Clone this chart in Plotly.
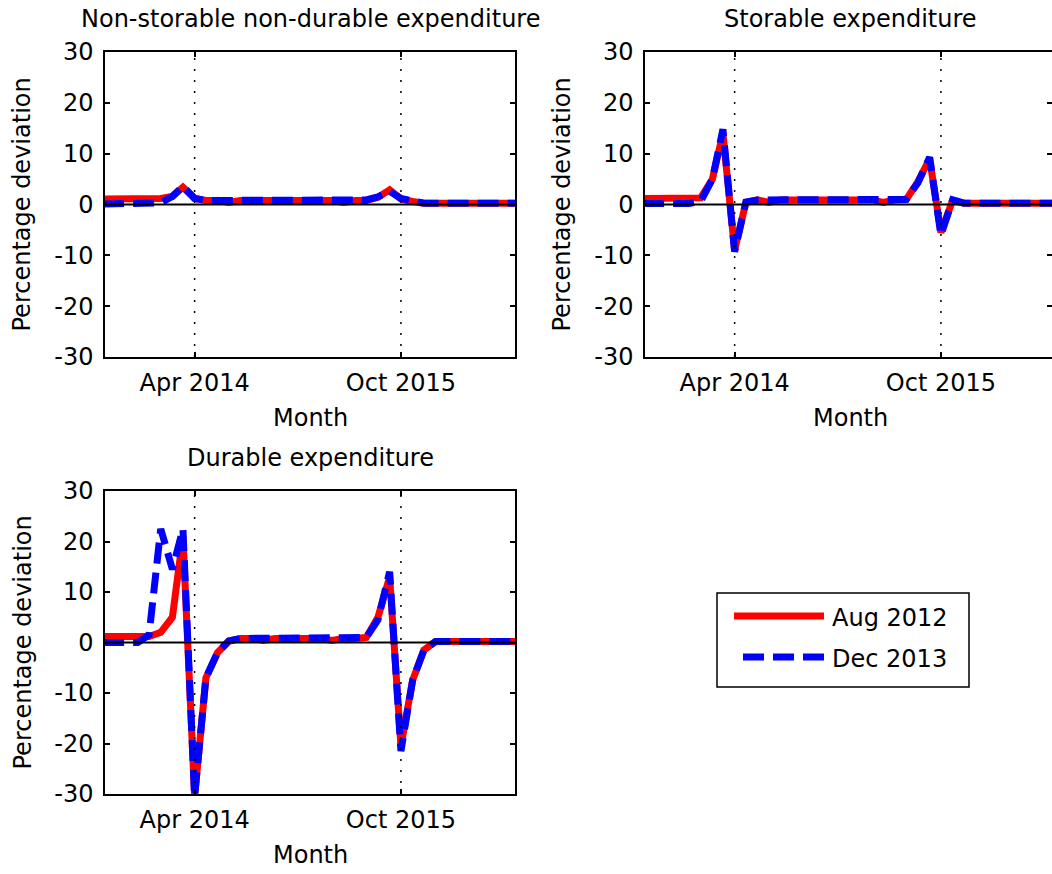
import plotly.graph_objects as go
import pandas as pd

# ---------------- data (monthly, Aug 2013 .. Aug 2016) ----------------
months = pd.date_range("2013-08-01", periods=37, freq="MS")

tick_dates = ["2014-04-01", "2015-10-01"]
tick_labels = ["Apr 2014", "Oct 2015"]
y_ticks = [-30, -20, -10, 0, 10, 20, 30]
y_tick_labels = ["-30", "-20", "-10", "0", "10", "20", "30"]
series_names = ["Aug 2012", "Dec 2013"]

# Non-storable non-durable expenditure
nondur_aug2012 = [1.1, 1.1, 1.1, 1.1, 1.1, 1.2, 1.6, 3.4, 1.2, 0.8,
                  0.8, 0.4, 0.8, 0.8, 0.8, 0.8, 0.8, 0.8, 0.8, 0.8,
                  0.8, 0.4, 0.8, 0.8, 1.4, 2.9, 1.1, 0.6, 0.25, 0.25,
                  0.25, 0.25, 0.25, 0.25, 0.25, 0.25, 0.25]
nondur_dec2013 = [0.1, 0.1, 0.1, 0.1, 0.1, 0.3, 1.6, 3.6, 1.2, 0.8,
                  0.8, 0.8, 0.8, 0.8, 0.8, 0.8, 0.8, 0.8, 0.8, 0.8,
                  0.8, 0.8, 0.8, 0.9, 1.5, 2.6, 1.2, 0.6, 0.25, 0.25,
                  0.25, 0.25, 0.25, 0.25, 0.25, 0.25, 0.25]

# Storable expenditure
stor_aug2012 = [1.2, 1.2, 1.2, 1.2, 1.2, 1.3, 5.0, 14.0, -9.0, 0.4,
                0.9, 0.4, 0.9, 0.9, 0.9, 0.9, 0.9, 0.9, 0.9, 0.9,
                0.9, 0.4, 0.9, 1.0, 4.5, 9.0, -5.5, 0.8, 0.25, 0.25,
                0.25, 0.25, 0.25, 0.25, 0.25, 0.25, 0.25]
stor_dec2013 = [0.2, 0.2, 0.2, 0.2, 0.2, 0.6, 5.0, 14.8, -9.3, 0.5,
                0.9, 0.9, 0.9, 0.9, 0.9, 0.9, 0.9, 0.9, 0.9, 0.9,
                0.9, 0.9, 0.9, 1.0, 4.3, 9.3, -6.0, 0.9, 0.25, 0.25,
                0.25, 0.25, 0.25, 0.25, 0.25, 0.25, 0.25]

# Durable expenditure
dur_aug2012 = [1.2, 1.2, 1.2, 1.2, 1.2, 2.0, 5.0, 21.0, -30.5, -7.0,
               -2.0, 0.3, 0.8, 0.8, 0.4, 0.8, 0.8, 0.8, 0.8, 0.8,
               0.4, 0.8, 0.8, 1.0, 5.0, 13.0, -20.5, -7.5, -1.5, 0.2,
               0.2, 0.2, 0.2, 0.2, 0.2, 0.2, 0.2]
dur_dec2013 = [0.0, 0.0, 0.0, 0.0, 1.5, 22.5, 14.5, 22.5, -30.5, -7.0,
               -2.0, 0.3, 0.8, 0.8, 0.8, 0.8, 0.8, 0.8, 0.8, 0.8,
               0.8, 0.8, 0.8, 1.0, 4.5, 14.0, -21.5, -7.5, -1.5, 0.2,
               0.2, 0.2, 0.2, 0.2, 0.2, 0.2, 0.2]

panels = [
    ("Non-storable non-durable expenditure", nondur_aug2012, nondur_dec2013),
    ("Storable expenditure", stor_aug2012, stor_dec2013),
    ("Durable expenditure", dur_aug2012, dur_dec2013),
]

# ---------------- layout geometry ----------------
W, H = 1052, 874
FONT = "DejaVu Sans"
FS = 24
RED = "rgb(255,0,0)"
BLUE = "rgb(0,0,255)"
LW = 7
DASH = "21px,9px"


def fx(p):
    return p / W


def fy(p):
    return 1 - p / H


# pixel boxes (left, right, top, bottom)
boxes = [(105, 515, 52, 357), (645, 1052, 52, 357), (105, 515, 491, 794)]
xranges = [["2013-08-06", "2016-07-30"], ["2013-08-06", "2016-07-22"],
           ["2013-08-06", "2016-07-30"]]

fig = go.Figure()
annotations = []
shapes = []

for i, ((title, red_vals, blue_vals), (l, r, t, b), xr) in enumerate(zip(panels, boxes, xranges)):
    n = "" if i == 0 else str(i + 1)
    xa, ya = "x" + n, "y" + n
    fig.add_trace(go.Scatter(x=months, y=red_vals, mode="lines", name=series_names[0],
                             line=dict(color=RED, width=LW), xaxis=xa, yaxis=ya,
                             showlegend=False))
    fig.add_trace(go.Scatter(x=months, y=blue_vals, mode="lines", name=series_names[1],
                             line=dict(color=BLUE, width=LW, dash=DASH), xaxis=xa, yaxis=ya,
                             showlegend=False))
    axis_common = dict(showline=True, linecolor="black", linewidth=1.5, mirror="ticks",
                       ticks="inside", ticklen=5, tickwidth=1.5, tickcolor="black",
                       showgrid=False, zeroline=False, automargin=False,
                       tickfont=dict(family=FONT, size=FS, color="black"))
    fig.layout["xaxis" + n] = dict(axis_common, type="date", range=xr,
                                   domain=[fx(l), min(fx(r), 1.0)], anchor=ya,
                                   tickvals=tick_dates, ticktext=tick_labels,
                                   ticklabelstandoff=3)
    fig.layout["yaxis" + n] = dict(axis_common, range=[-30, 30], tickvals=y_ticks,
                                   ticktext=y_tick_labels, ticklabelstandoff=5,
                                   domain=[fy(b), fy(t)], anchor=xa)
    # zero line and dotted vertical lines at the ticks, drawn over the data
    shapes.append(dict(type="line", xref=xa + " domain", yref=ya, x0=0, x1=1, y0=0, y1=0,
                       line=dict(color="black", width=2), layer="above"))
    for d in tick_dates:
        shapes.append(dict(type="line", xref=xa, yref=ya + " domain", x0=d, x1=d, y0=0, y1=1,
                           line=dict(color="black", width=1.5, dash="2px,9px"), layer="above"))
    cx = (l + (1055 if i == 1 else r)) / 2
    annotations.append(dict(text=title, x=fx(cx), y=fy(t - 33), xref="paper", yref="paper",
                            showarrow=False, xanchor="center", yanchor="middle",
                            font=dict(family=FONT, size=FS, color="black")))
    annotations.append(dict(text="Month", x=fx(cx), y=fy(b + 61), xref="paper", yref="paper",
                            showarrow=False, xanchor="center", yanchor="middle",
                            font=dict(family=FONT, size=FS, color="black")))
    annotations.append(dict(text="Percentage deviation", x=fx(l - 83), y=fy((t + b) / 2),
                            xref="paper", yref="paper", textangle=-90,
                            showarrow=False, xanchor="center", yanchor="middle",
                            font=dict(family=FONT, size=FS, color="black")))

# ---------------- legend (box with line samples) ----------------
shapes.append(dict(type="rect", xref="paper", yref="paper", x0=fx(717), x1=fx(969),
                   y0=fy(593), y1=fy(687), line=dict(color="black", width=1.5),
                   fillcolor="white"))
shapes.append(dict(type="line", xref="paper", yref="paper", x0=fx(734), x1=fx(824),
                   y0=fy(616), y1=fy(616), line=dict(color=RED, width=LW)))
shapes.append(dict(type="line", xref="paper", yref="paper", x0=fx(743), x1=fx(824),
                   y0=fy(657), y1=fy(657), line=dict(color=BLUE, width=LW, dash=DASH)))
for name, yy in zip(series_names, [618, 659]):
    annotations.append(dict(text=name, x=fx(830), y=fy(yy), xref="paper", yref="paper",
                            showarrow=False, xanchor="left", yanchor="middle",
                            font=dict(family=FONT, size=FS, color="black")))

fig.update_layout(width=W, height=H, autosize=False,
                  margin=dict(l=0, r=0, t=0, b=0, pad=0, autoexpand=False),
                  paper_bgcolor="white", plot_bgcolor="white",
                  shapes=shapes, annotations=annotations,
                  font=dict(family=FONT, size=FS, color="black"))

fig.write_html("out.html")
